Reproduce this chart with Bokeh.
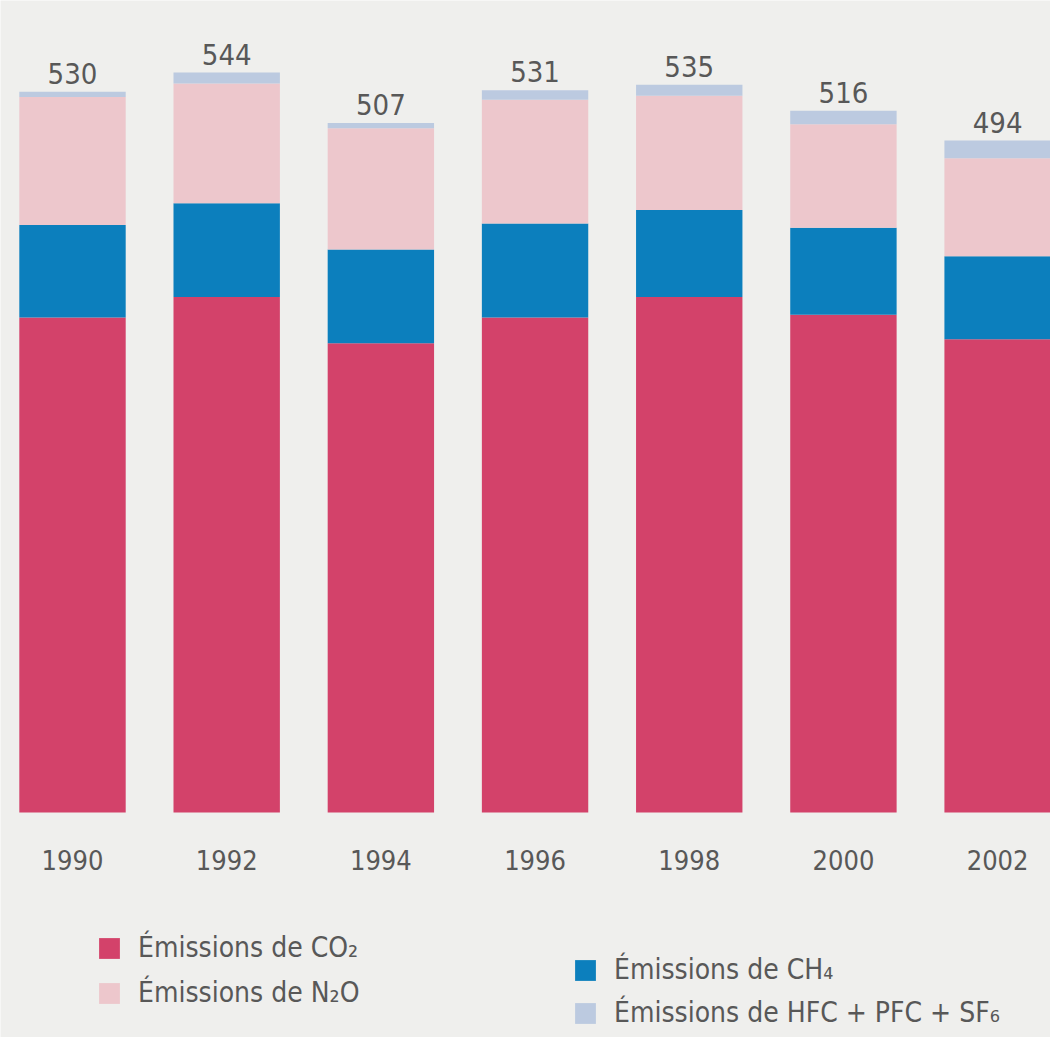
from bokeh.plotting import figure
from bokeh.models import Range1d, ColumnDataSource, Legend, LegendItem
from bokeh.core.properties import value
from bokeh.embed import file_html
from bokeh.resources import INLINE

# Émissions de gaz à effet de serre (Mt équivalent CO2)
years = ["1990", "1992", "1994", "1996", "1998", "2000", "2002"]
co2 = [364, 379, 345, 364, 379, 366, 348]
ch4 = [68, 69, 69, 69, 64, 64, 61]
n2o = [94, 88, 89, 91, 84, 76, 72]
fgas = [4, 8, 4, 7, 8, 10, 13]

series_keys = ["co2", "ch4", "n2o", "fgas"]
series_labels = [
    "Émissions de CO₂",
    "Émissions de CH₄",
    "Émissions de N₂O",
    "Émissions de HFC + PFC + SF₆",
]
colors = ["#d3426a", "#0c7fbd", "#edc7cc", "#bccae0"]

FONT = "DejaVu Sans Condensed, sans-serif"
TEXT_COLOR = "#585858"
BG = "#efefed"

xs = list(range(len(years)))
totals = [a + b + c + d for a, b, c, d in zip(co2, ch4, n2o, fgas)]

source = ColumnDataSource(dict(
    x=xs, year=years, co2=co2, ch4=ch4, n2o=n2o, fgas=fgas,
    total=totals, total_label=[str(t) for t in totals],
    year_y=[-35] * len(years),
))

p = figure(
    width=1050, height=1037,
    x_range=Range1d(-0.467, 6.343),
    y_range=Range1d(-165.4, 597),
    output_backend="svg", toolbar_location=None,
    x_axis_location=None, y_axis_location=None,
    min_border=0,
)
p.grid.visible = False
p.outline_line_color = None
p.background_fill_color = BG
p.border_fill_color = BG

renderers = p.vbar_stack(
    series_keys, x="x", width=0.69, source=source,
    color=colors, line_color=None,
)

# totals above each bar
p.text(
    x="x", y="total", text="total_label", source=source,
    text_align="center", text_baseline="bottom", y_offset=-8,
    text_font=value(FONT), text_font_size="29px", text_color=TEXT_COLOR,
)

# year labels under the bars
p.text(
    x="x", y="year_y", text="year", source=source,
    text_align="center", text_baseline="middle",
    text_font=value(FONT), text_font_size="27px", text_color=TEXT_COLOR,
)


def make_legend(items, loc, spacing):
    return Legend(
        items=items, location=loc, orientation="vertical",
        glyph_width=26, glyph_height=26, label_standoff=16,
        label_text_font=FONT, label_text_font_size="28px",
        label_text_color=TEXT_COLOR, spacing=spacing, padding=0, margin=0,
        background_fill_alpha=0, border_line_color=None,
    )


left_legend = make_legend(
    [LegendItem(label=series_labels[0], renderers=[renderers[0]]),
     LegendItem(label=series_labels[2], renderers=[renderers[2]])],
    (96, 28), 12,
)
right_legend = make_legend(
    [LegendItem(label=series_labels[1], renderers=[renderers[1]]),
     LegendItem(label=series_labels[3], renderers=[renderers[3]])],
    (572, 8), 10,
)
p.add_layout(left_legend, "center")
p.add_layout(right_legend, "center")

open("out.html", "w").write(file_html(p, INLINE))
